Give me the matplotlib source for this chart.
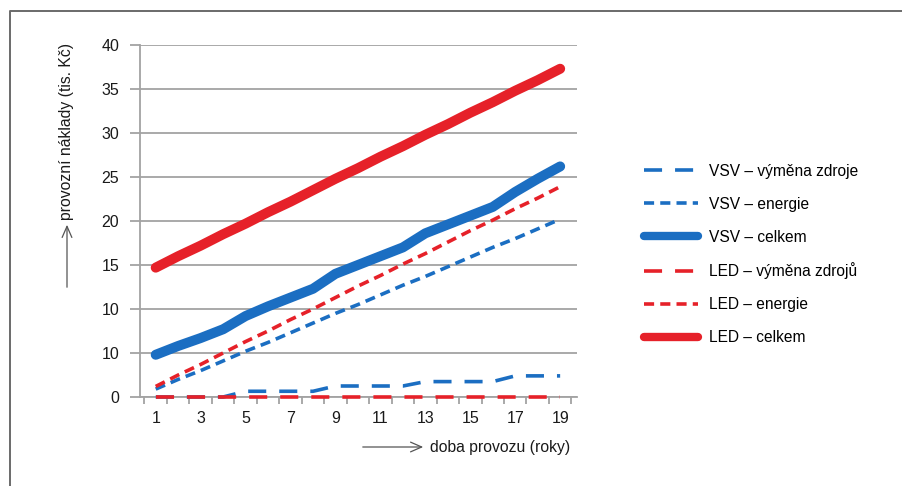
import matplotlib.pyplot as plt
from matplotlib.lines import Line2D
from matplotlib.patches import FancyArrowPatch
import numpy as np

plt.rcParams['font.family'] = ['Liberation Sans', 'DejaVu Sans']

# doba provozu (roky)
roky = list(range(1, 20))

# provozní náklady v tis. Kč
vsv_vymena = [0, 0, 0, 0, 0.65, 0.65, 0.65, 0.65, 1.25, 1.25, 1.25, 1.25,
              1.75, 1.75, 1.75, 1.75, 2.4, 2.4, 2.4]
vsv_energie = [0.9, 2.0, 3.0, 4.1, 5.2, 6.2, 7.3, 8.4, 9.5, 10.5, 11.6,
               12.7, 13.7, 14.8, 15.9, 17.0, 18.0, 19.1, 20.2]
vsv_celkem = [4.8, 5.8, 6.7, 7.7, 9.2, 10.3, 11.3, 12.3, 14.0, 15.0, 16.0,
              17.0, 18.6, 19.6, 20.6, 21.6, 23.3, 24.8, 26.2]
led_vymena = [0] * 19
led_energie = [1.2, 2.5, 3.7, 5.0, 6.3, 7.5, 8.8, 10.0, 11.3, 12.6, 13.8,
               15.1, 16.3, 17.6, 18.9, 20.1, 21.4, 22.6, 23.9]
led_celkem = [14.7, 16.0, 17.2, 18.5, 19.7, 21.0, 22.2, 23.5, 24.8, 26.0,
              27.3, 28.5, 29.8, 31.0, 32.3, 33.5, 34.8, 36.0, 37.3]

y_ticks = [0, 5, 10, 15, 20, 25, 30, 35, 40]
y_labels = ['0', '10', '10', '15', '20', '25', '30', '35', '40']
x_labels = [1, 3, 5, 7, 9, 11, 13, 15, 17, 19]

modra = '#1b6ec2'
cervena = '#e62129'
seda = '#a3a3a3'
text_barva = '#1a1a1a'

fig = plt.figure(figsize=(9.02, 4.86), dpi=100)
ax = fig.add_axes([140 / 902, 1 - 397 / 486, 437 / 902, 352 / 486])

vymena_ls = (0, (5, 3.6))
energie_ls = (0, (2.8, 1.7))

ax.plot(roky, vsv_vymena, color=modra, lw=2.6, ls=vymena_ls, clip_on=False,
        zorder=3, label='VSV – výměna zdroje')
ax.plot(roky, vsv_energie, color=modra, lw=2.6, ls=energie_ls, zorder=3,
        label='VSV – energie')
ax.plot(roky, vsv_celkem, color=modra, lw=7.2, solid_capstyle='round',
        solid_joinstyle='round', zorder=3, label='VSV – celkem')
ax.plot(roky, led_vymena, color=cervena, lw=2.6, ls=vymena_ls, clip_on=False,
        zorder=3, label='LED – výměna zdrojů')
ax.plot(roky, led_energie, color=cervena, lw=2.6, ls=energie_ls, zorder=3,
        label='LED – energie')
ax.plot(roky, led_celkem, color=cervena, lw=7.2, solid_capstyle='round',
        solid_joinstyle='round', zorder=3, label='LED – celkem')

ax.set_xlim(0.3, 19.75)
ax.set_ylim(0, 40)
ax.set_yticks(y_ticks)
ax.set_yticklabels(y_labels)
ax.set_xticks(x_labels)
ax.set_xticks(np.arange(0.5, 20, 1), minor=True)
ax.tick_params(axis='x', which='major', length=0, pad=10, labelsize=11.5,
               labelcolor=text_barva)
ax.tick_params(axis='x', which='minor', length=5, width=1.3, color=seda, direction='out')
ax.tick_params(axis='y', length=7, width=1.3, color=seda, pad=8, labelsize=11.5,
               labelcolor=text_barva)

ax.grid(axis='y', color=seda, lw=1.3)
ax.set_axisbelow(True)
for s in ['top', 'right']:
    ax.spines[s].set_visible(False)
for s in ['left', 'bottom']:
    ax.spines[s].set_color(seda)
    ax.spines[s].set_linewidth(1.3)
    ax.spines[s].set_zorder(1)

leg = ax.legend(loc='center left', bbox_to_anchor=(630 / 902, 1 - 254.5 / 486),
                bbox_transform=fig.transFigure, frameon=False, fontsize=11.2,
                handlelength=3.5, handletextpad=0.65, labelspacing=1.15)
# tlusté čáry v legendě o něco tenčí
for h in leg.get_lines():
    if h.get_linewidth() > 5:
        h.set_linewidth(6)

# popisky os se šipkou
fig.text(67 / 902, 1 - 131 / 486, 'provozní náklady (tis. Kč)', rotation=90,
         ha='center', va='center', fontsize=11.3, color=text_barva)
fig.add_artist(FancyArrowPatch(
    (67 / 902, 1 - 290 / 486), (67 / 902, 1 - 222 / 486), transform=fig.transFigure,
    arrowstyle='->,head_length=8,head_width=3.5', color='#555555', lw=0.9))
fig.text(430 / 902, 1 - 447 / 486, 'doba provozu (roky)', ha='left', va='center',
         fontsize=11.3, color=text_barva)
fig.add_artist(FancyArrowPatch(
    (360 / 902, 1 - 447 / 486), (426 / 902, 1 - 447 / 486), transform=fig.transFigure,
    arrowstyle='->,head_length=8,head_width=3.5', color='#555555', lw=0.9))

# rámeček kolem obrázku
fig.add_artist(Line2D([9.5 / 902, 9.5 / 902, 1], [0, 1 - 11.5 / 486, 1 - 11.5 / 486],
                      transform=fig.transFigure, color='#6a6a6a', lw=1.4))

fig.savefig('out.png', dpi=100)
